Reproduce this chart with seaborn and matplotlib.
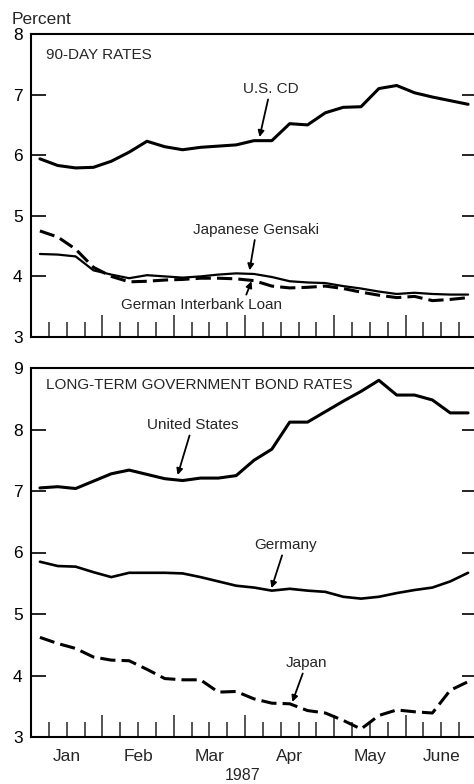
import numpy as np
import pandas as pd
import matplotlib
matplotlib.use("Agg")
import matplotlib.pyplot as plt
from matplotlib import font_manager
import matplotlib.transforms as mtransforms
import seaborn as sns

# weekly observations, Jan-June 1987 (week midpoints)
weeks = np.arange(25) + 0.5

us_cd = [5.94, 5.83, 5.79, 5.80, 5.90, 6.05, 6.23, 6.14, 6.09, 6.13, 6.15, 6.17, 6.24,
         6.24, 6.52, 6.50, 6.70, 6.79, 6.80, 7.10, 7.15, 7.03, 6.96, 6.90, 6.84]
gensaki = [4.37, 4.36, 4.33, 4.10, 4.03, 3.97, 4.02, 4.00, 3.98, 4.00, 4.03, 4.05, 4.04,
           3.99, 3.92, 3.90, 3.89, 3.84, 3.80, 3.75, 3.71, 3.73, 3.71, 3.70, 3.70]
german_loan = [4.75, 4.65, 4.45, 4.15, 4.00, 3.91, 3.92, 3.94, 3.95, 3.97, 3.97, 3.96, 3.93,
               3.84, 3.81, 3.82, 3.84, 3.80, 3.74, 3.69, 3.65, 3.67, 3.60, 3.62, 3.65]

us_bond = [7.05, 7.07, 7.04, 7.16, 7.28, 7.34, 7.27, 7.20, 7.17, 7.21, 7.21, 7.25, 7.50,
           7.68, 8.12, 8.12, 8.29, 8.46, 8.62, 8.80, 8.56, 8.56, 8.48, 8.27, 8.27]
germany_bond = [5.85, 5.78, 5.77, 5.68, 5.60, 5.67, 5.67, 5.67, 5.66, 5.60, 5.53, 5.46, 5.43,
                5.38, 5.41, 5.38, 5.36, 5.28, 5.25, 5.28, 5.34, 5.39, 5.43, 5.53, 5.67]
japan_bond = [4.62, 4.52, 4.44, 4.30, 4.25, 4.24, 4.10, 3.95, 3.93, 3.93, 3.73, 3.74, 3.62,
              3.55, 3.54, 3.43, 3.39, 3.27, 3.13, 3.35, 3.44, 3.41, 3.39, 3.76, 3.90]

months = ["Jan", "Feb", "Mar", "Apr", "May", "June"]
month_mid = [2, 6, 10, 14.5, 19, 23]
month_starts = [0, 4, 8, 12, 17, 21, 25]

sns.set_style("ticks")
avail = {f.name for f in font_manager.fontManager.ttflist}
fam = [f for f in ["Liberation Sans Narrow", "Liberation Sans", "DejaVu Sans"] if f in avail]
plt.rcParams["font.family"] = fam

fig = plt.figure(figsize=(4.74, 7.84), dpi=100)
ax1 = fig.add_axes([31 / 474, 447 / 784, 446 / 474, 303 / 784])
ax2 = fig.add_axes([31 / 474, 47 / 784, 446 / 474, 369 / 784])

LW = 2.2
DASH = (0, (5, 2))

df1 = pd.DataFrame({"week": weeks, "us_cd": us_cd, "gensaki": gensaki, "german": german_loan})
sns.lineplot(data=df1, x="week", y="us_cd", ax=ax1, color="black", lw=LW)
sns.lineplot(data=df1, x="week", y="gensaki", ax=ax1, color="black", lw=1.6)
sns.lineplot(data=df1, x="week", y="german", ax=ax1, color="black", lw=LW, linestyle=DASH)

df2 = pd.DataFrame({"week": weeks, "us": us_bond, "de": germany_bond, "jp": japan_bond})
sns.lineplot(data=df2, x="week", y="us", ax=ax2, color="black", lw=LW)
sns.lineplot(data=df2, x="week", y="de", ax=ax2, color="black", lw=1.9)
sns.lineplot(data=df2, x="week", y="jp", ax=ax2, color="black", lw=LW, linestyle=DASH)

for ax, ylo, yhi in [(ax1, 3, 8), (ax2, 3, 9)]:
    ax.set_xlim(0, 25)
    ax.set_ylim(ylo, yhi)
    ax.set_xlabel("")
    ax.set_ylabel("")
    for s in ax.spines.values():
        s.set_visible(True)
        s.set_linewidth(1.5)
        s.set_color("black")
    ax.set_yticks(range(ylo, yhi + 1))
    ax.tick_params(axis="y", which="major", direction="in", left=True, right=True,
                   length=11, width=1.2, labelsize=12.5, pad=6, colors="black")
    ax.set_xticks(month_starts)
    ax.set_xticks([w for w in range(26) if w not in month_starts], minor=True)
    ax.tick_params(axis="x", which="major", direction="in", length=16, width=1.1,
                   labelbottom=False, bottom=True, top=False)
    ax.tick_params(axis="x", which="minor", direction="in", length=10.5, width=1.1,
                   bottom=True, top=False)
    ax.grid(False)

trans = mtransforms.blended_transform_factory(ax2.transData, ax2.transAxes)
for name, xm in zip(months, month_mid):
    ax2.text(xm, -0.054, name, transform=trans, ha="center", va="center", fontsize=12.5)

ax1.text(0.034, 0.93, "90-DAY RATES", transform=ax1.transAxes, fontsize=11, va="center")
ax2.text(0.034, 0.954, "LONG-TERM GOVERNMENT BOND RATES", transform=ax2.transAxes,
         fontsize=11, va="center")

arrow = dict(arrowstyle="-|>", color="black", lw=1.3, mutation_scale=9, shrinkA=0, shrinkB=0)
ax1.annotate("U.S. CD", xy=(12.81, 6.30), xytext=(13.42, 7.09), ha="center", va="center",
             fontsize=11, arrowprops=arrow)
ax1.annotate("Japanese Gensaki", xy=(12.25, 4.10), xytext=(12.64, 4.77), ha="center",
             va="center", fontsize=11, arrowprops=arrow)
ax1.annotate("German Interbank Loan", xy=(12.36, 3.92), xytext=(9.56, 3.53), ha="center",
             va="center", fontsize=11, arrowprops=dict(arrow, relpos=(0.77, 1.0)))
ax2.annotate("United States", xy=(8.22, 7.26), xytext=(9.06, 8.07), ha="center",
             va="center", fontsize=11, arrowprops=arrow)
ax2.annotate("Germany", xy=(13.48, 5.42), xytext=(14.26, 6.12), ha="center",
             va="center", fontsize=11, arrowprops=arrow)
ax2.annotate("Japan", xy=(14.65, 3.57), xytext=(15.44, 4.20), ha="center",
             va="center", fontsize=11, arrowprops=arrow)

fig.text(12 / 474, 1 - 20 / 784, "Percent", fontsize=12.5, va="center", ha="left")
fig.text(243 / 474, 1 - 775 / 784, "1987", fontsize=11.5, va="center", ha="center")

fig.savefig("out.png", dpi=100)
